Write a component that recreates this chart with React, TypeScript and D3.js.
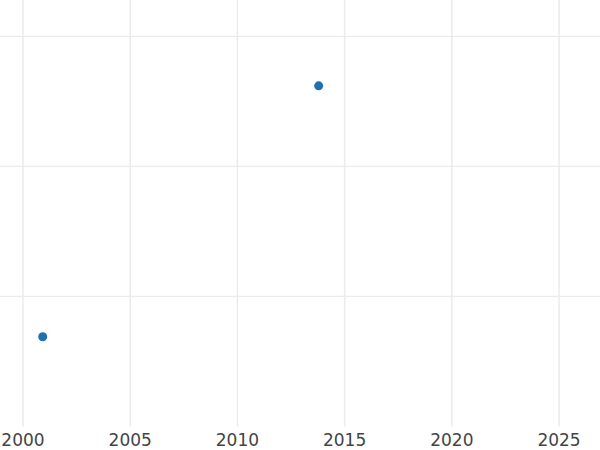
import React from "react";
import * as d3 from "d3";

const years: number[] = [2000.92, 2013.79];
const values: number[] = [6.9, 26.2];
const xTicks: number[] = [2000, 2005, 2010, 2015, 2020, 2025];
const yTicks: number[] = [10, 20, 30];

export default function App() {
  const width = 600;
  const height = 450;
  const plotBottom = 426.5;
  const x = d3.scaleLinear().domain([1998.927, 2026.91]).range([0, width]);
  const y = d3.scaleLinear().domain([0, 32.8]).range([plotBottom, 0]);
  return (
    <svg
      width={width}
      height={height}
      style={{ position: "fixed", left: 0, top: 0, background: "#fff" }}
      fontFamily="DejaVu Sans, sans-serif"
    >
      {yTicks.map((t) => (
        <line key={"y" + t} x1={0} x2={width} y1={y(t)} y2={y(t)} stroke="#ebebeb" strokeWidth={1.2} />
      ))}
      {xTicks.map((t) => (
        <line key={"x" + t} x1={x(t)} x2={x(t)} y1={0} y2={plotBottom} stroke="#ebebeb" strokeWidth={1.5} />
      ))}
      {xTicks.map((t) => (
        <text key={"l" + t} x={x(t)} y={446} textAnchor="middle" fontSize={17} fill="#444">
          {d3.format("d")(t)}
        </text>
      ))}
      {years.map((yr, i) => (
        <circle key={i} cx={x(yr)} cy={y(values[i])} r={4.5} fill="#1f70b0" />
      ))}
    </svg>
  );
}
